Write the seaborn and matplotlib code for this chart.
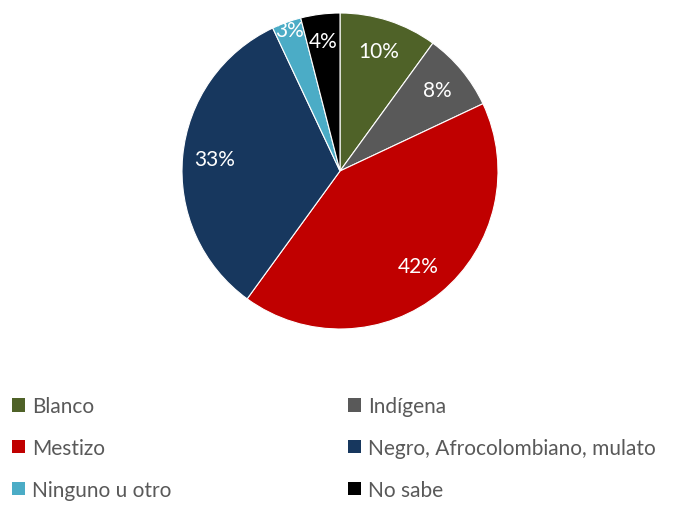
import numpy as np
import matplotlib
matplotlib.use("Agg")
import matplotlib.pyplot as plt
import seaborn as sns
from matplotlib.patches import Patch

categories = ["Blanco", "Indígena", "Mestizo", "Negro, Afrocolombiano, mulato", "Ninguno u otro", "No sabe"]
values = [10, 8, 42, 33, 3, 4]
colors = ["#4F6228", "#595959", "#C00000", "#17375E", "#4BACC6", "#000000"]
label_dist = [0.80, 0.80, 0.78, 0.80, 0.95, 0.83]

sns.set_theme(style="white")
plt.rcParams["font.family"] = ["Lato", "DejaVu Sans"]

fig = plt.figure(figsize=(6.78, 5.06), dpi=100)
ax = fig.add_axes([182/678, 176/506, 316/678, 316/506])
wedges, _ = ax.pie(values, colors=colors, startangle=90, counterclock=False,
                   wedgeprops=dict(edgecolor="white", linewidth=0.8))
ax.set_aspect("equal")
ax.set_xlim(-1, 1)
ax.set_ylim(-1, 1)

for w, v, d in zip(wedges, values, label_dist):
    ang = np.deg2rad((w.theta1 + w.theta2) / 2)
    ax.text(d * np.cos(ang), d * np.sin(ang), f"{v}%", ha="center", va="center",
            color="white", fontsize=15)

columns = [[0, 2, 4], [1, 3, 5]]
xs = [12/678, 348/678]
for col, x in zip(columns, xs):
    handles = [Patch(facecolor=colors[i], edgecolor="none") for i in col]
    labels = [categories[i] for i in col]
    leg = fig.legend(handles, labels, ncol=1, loc="center left",
                     bbox_to_anchor=(x, 1 - 449/506), frameon=False, fontsize=15,
                     handlelength=0.62, handleheight=0.62, handletextpad=0.36,
                     labelspacing=1.05, borderaxespad=0, borderpad=0)
    for t in leg.get_texts():
        t.set_color("#595959")

fig.savefig("out.png", dpi=100)
